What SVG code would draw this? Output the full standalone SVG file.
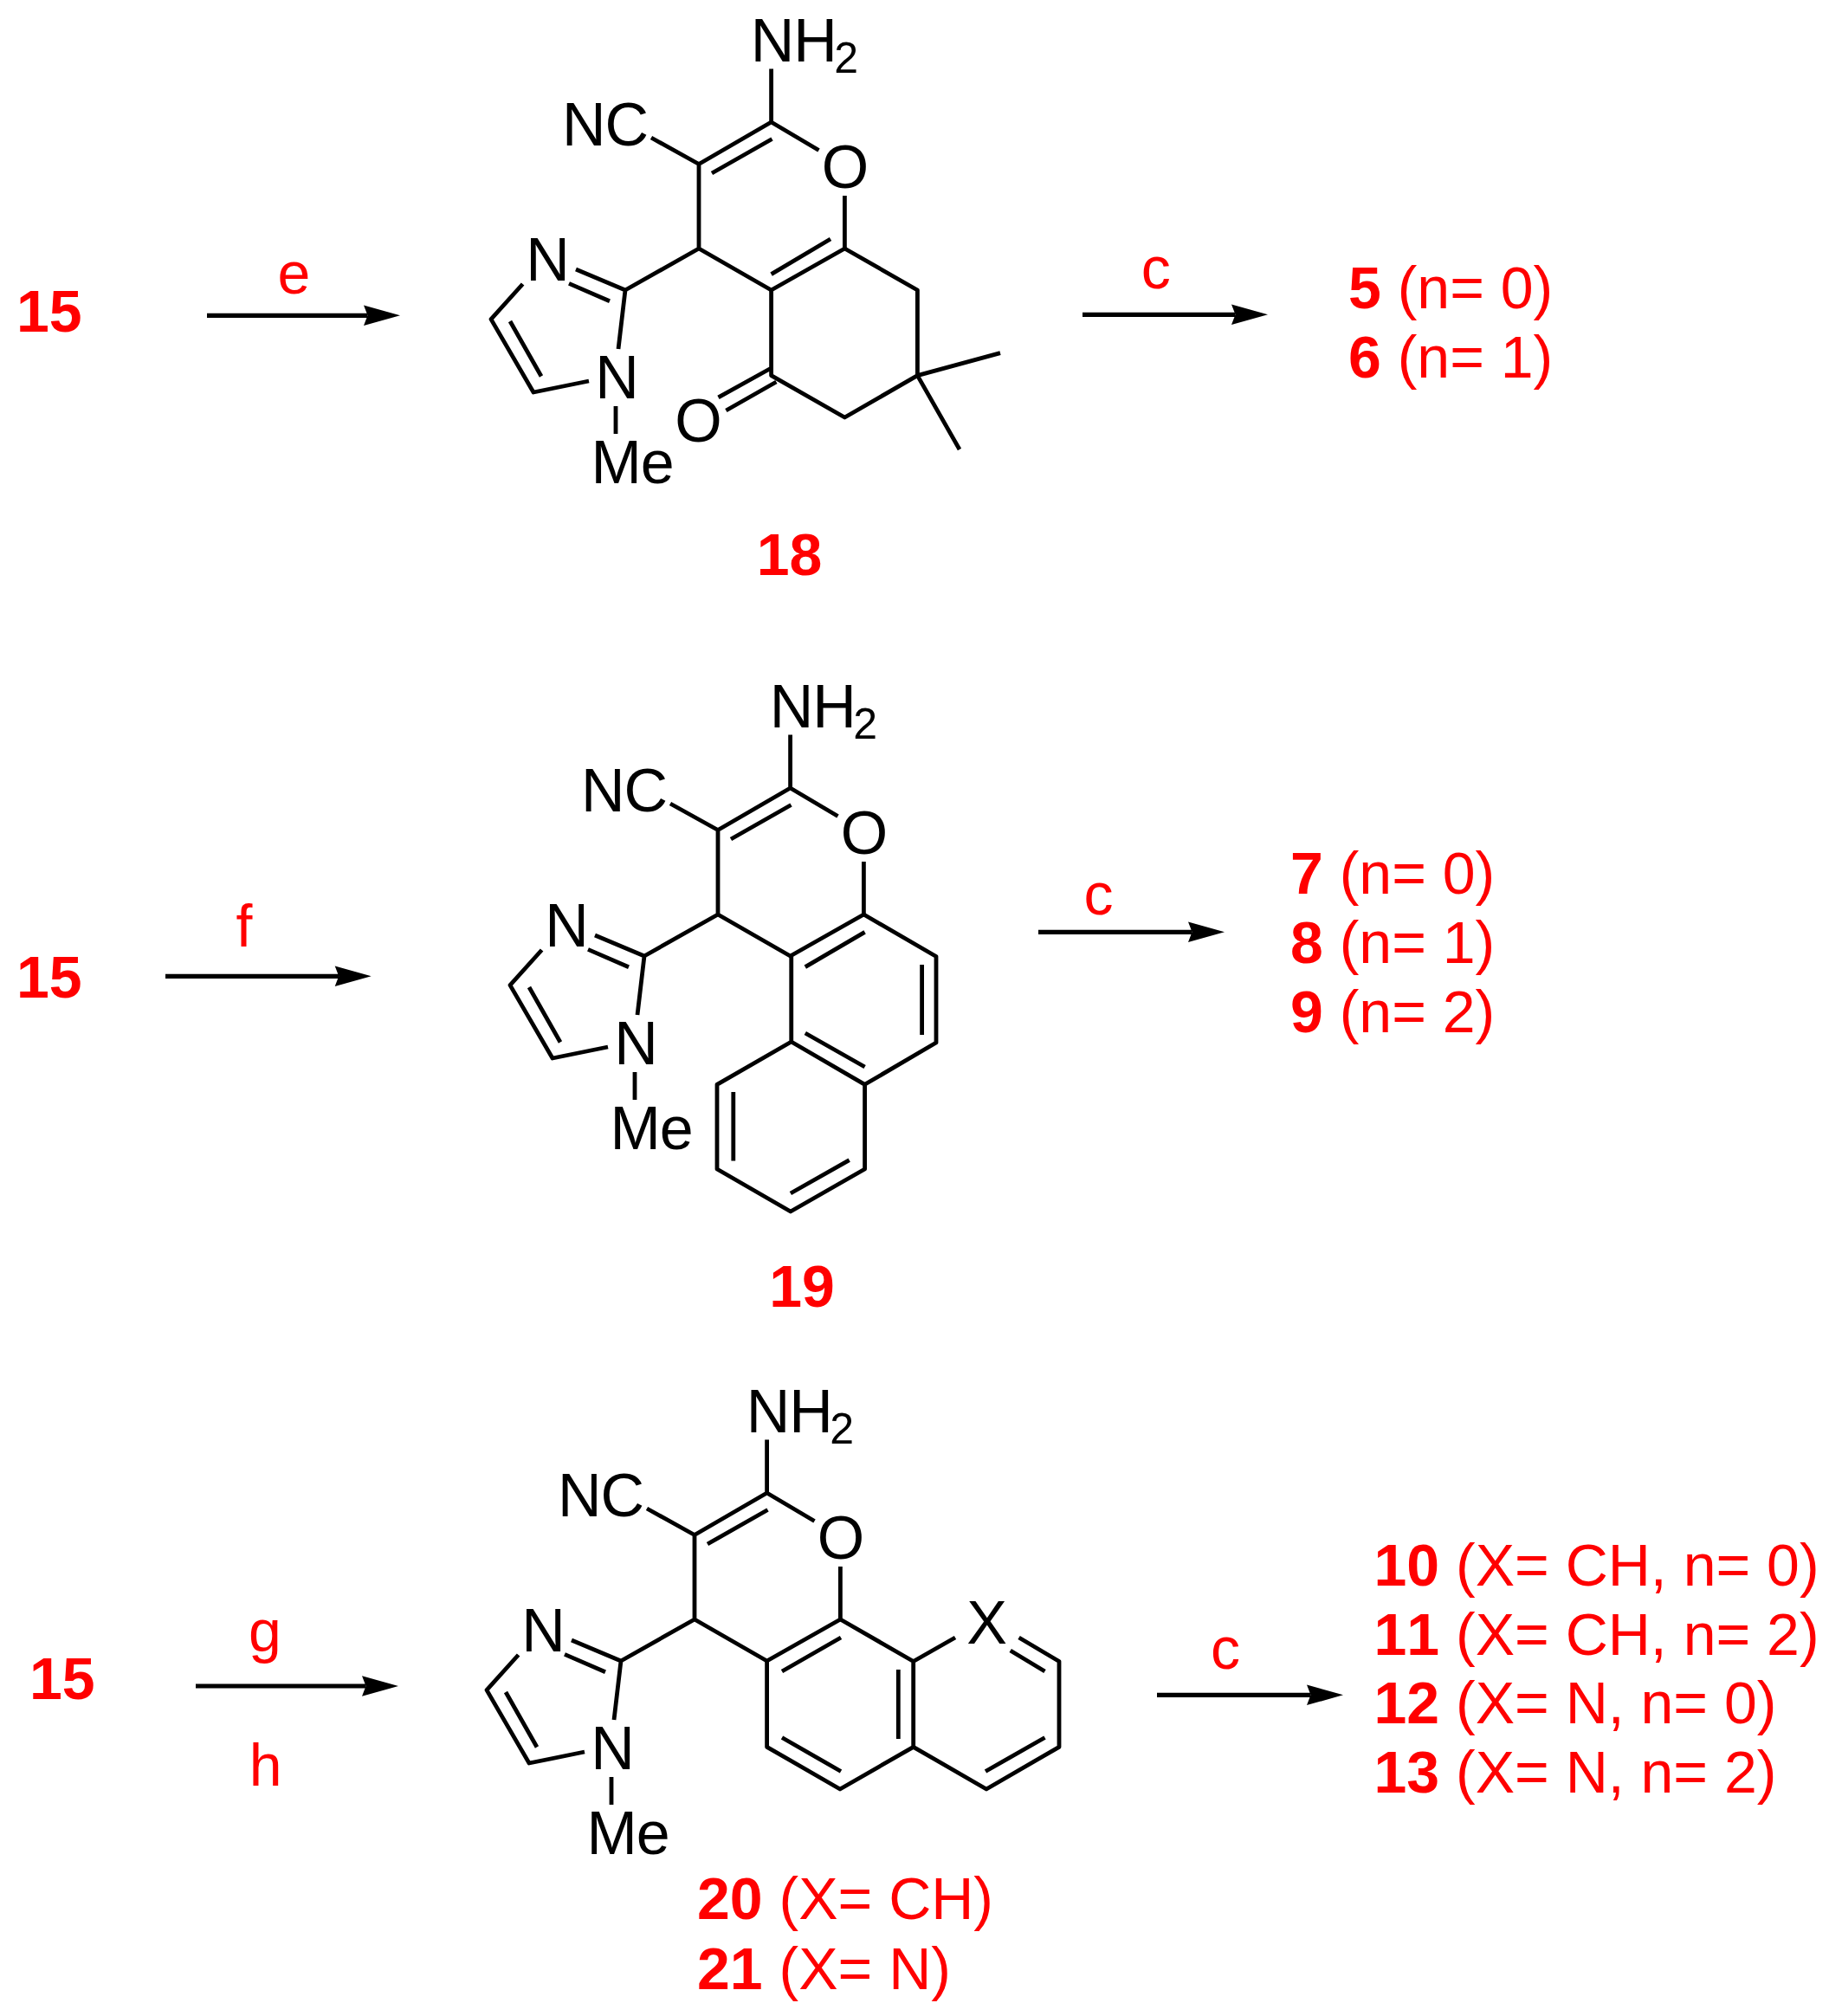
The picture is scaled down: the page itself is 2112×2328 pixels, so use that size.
<svg xmlns="http://www.w3.org/2000/svg" width="2112" height="2328" viewBox="0 0 2112 2328">
<style>
text{font-family:"Liberation Sans",Arial,sans-serif;font-size:68px;font-kerning:none}
.k{fill:#000;font-size:70px;letter-spacing:-1px}
.r{fill:#f00}
.b{font-weight:bold}
.m{text-anchor:middle}
.s{font-size:50px;letter-spacing:0}
.bond{fill:none;stroke:#000;stroke-width:4.8;stroke-linejoin:round}
.arrow{fill:none;stroke:#000;stroke-width:5.200}
</style>
<defs>
<marker id="head" markerUnits="userSpaceOnUse" markerWidth="50" markerHeight="30" refX="4.5" refY="12" orient="auto" overflow="visible"><path d="M0 .2L42 12L0 23.800L4.500 12Z" fill="#000"/></marker>
<path id="core" d="M890.600 79.400V141L807 189.500V287L890.600 335L975.400 287V226M822 200L891.500 160.500M752 159L807 189.500M890.600 141L945.500 173.500M807 287L722 335L714 403M722 335L665 311M704 347.800L657 327.400M603.600 328L567 368.600L616 453L680 440M589 371L625 434.500M711 469V501"/>
</defs>
<rect width="2112" height="2328" fill="#fff"/>
<g id="connectors">
<path class="arrow" d="M239 364.300H424.500" marker-end="url(#head)"/>
<path class="arrow" d="M1250 363.300H1426.500" marker-end="url(#head)"/>
<path class="arrow" d="M191 1127.300H391.200" marker-end="url(#head)"/>
<path class="arrow" d="M1199 1076.300H1376.500" marker-end="url(#head)"/>
<path class="arrow" d="M226 1947H422.500" marker-end="url(#head)"/>
<path class="arrow" d="M1336 1957.300H1513.500" marker-end="url(#head)"/>
</g>
<g id="mol18">
<use href="#core" class="bond"/>
<path class="bond" d="M890.600 316.600L959 276M975.400 287L1059.400 335V433.600L975.400 482L890.600 433.600V335M1155 407.600L1059.400 433.600L1108 519M890.600 425L829.500 458.800M896.400 441L838.400 474"/>
<text class="k" x="866.700" y="71">NH<tspan class="s" dy="13" dx="-2.500">2</tspan></text>
<text class="k" x="649" y="167.500">NC</text>
<text class="k m" x="975.400" y="216.500">O</text>
<text class="k m" x="806" y="509.500">O</text>
<text class="k m" x="632" y="323.500">N</text>
<text class="k m" x="712" y="460">N</text>
<text class="k" x="682.500" y="558">Me</text>
<text class="r b m" x="911.600" y="663.500">18</text>
</g>
<g id="mol19">
<use href="#core" class="bond" transform="translate(22 769)"/>
<path class="bond" d="M929.800 1116.600L998.600 1076.400M997.400 1056L1081 1104.500V1204L998.600 1252.300L913.750 1203V1104M1064.600 1114V1195M929.800 1193L998.600 1232M913.750 1203L828 1252.300V1350L912.900 1399L998.600 1350V1252.300M846.800 1261V1340.500M912.900 1378L980.700 1339.600"/>
<text class="k" x="888.700" y="840">NH<tspan class="s" dy="13" dx="-2.500">2</tspan></text>
<text class="k" x="671" y="936.500">NC</text>
<text class="k m" x="997.400" y="985.500">O</text>
<text class="k m" x="654" y="1092.500">N</text>
<text class="k m" x="734" y="1229">N</text>
<text class="k" x="704.500" y="1327">Me</text>
<text class="r b m" x="926" y="1509">19</text>
</g>
<g id="mol20">
<use href="#core" class="bond" transform="translate(-5 1583)"/>
<path class="bond" d="M903 1930L971 1891M970.400 1870L1054.700 1918.500V2017.300L970 2066L885.600 2017.300V1918M903 2006.500L971 2045.500M1037.300 1928V2008M1054.700 1918.500L1103 1891M1176.600 1891L1223 1918.500V2017.300L1139 2066L1054.700 2017.300M1166.700 1906L1206.500 1930M1206.500 2006.500L1138 2045.500"/>
<text class="k" x="861.700" y="1654">NH<tspan class="s" dy="13" dx="-2.500">2</tspan></text>
<text class="k" x="644" y="1750.500">NC</text>
<text class="k m" x="970.400" y="1799.500">O</text>
<text class="k m" x="627" y="1906.500">N</text>
<text class="k m" x="707" y="2043">N</text>
<text class="k" x="677.500" y="2141">Me</text>
<text class="k m" x="1139" y="1897.500">X</text>
<text class="r" x="805" y="2216"><tspan class="b">20</tspan> (X= CH)</text>
<text class="r" x="805" y="2297"><tspan class="b">21</tspan> (X= N)</text>
</g>
<g id="reactant-1"><text class="r b" x="19" y="382.500">15</text></g>
<g id="reactant-2"><text class="r b" x="19" y="1151.500">15</text></g>
<g id="reactant-3"><text class="r b" x="34" y="1962">15</text></g>
<g id="reagents">
<text class="r m" x="339.300" y="339">e</text>
<text class="r m" x="1334.800" y="333">c</text>
<text class="r m" x="282" y="1092.700">f</text>
<text class="r m" x="1268.400" y="1056">c</text>
<text class="r m" x="306" y="1906.700">g</text>
<text class="r m" x="306.700" y="2062.300">h</text>
<text class="r m" x="1415" y="1927">c</text>
</g>
<g id="products-1">
<text class="r" x="1557" y="356"><tspan class="b">5</tspan> (n= 0)</text>
<text class="r" x="1557" y="436"><tspan class="b">6</tspan> (n= 1)</text>
</g>
<g id="products-2">
<text class="r" x="1490" y="1031.500"><tspan class="b">7</tspan> (n= 0)</text>
<text class="r" x="1490" y="1111.500"><tspan class="b">8</tspan> (n= 1)</text>
<text class="r" x="1490" y="1191.500"><tspan class="b">9</tspan> (n= 2)</text>
</g>
<g id="products-3">
<text class="r" x="1586.500" y="1831"><tspan class="b">10</tspan> (X= CH, n= 0)</text>
<text class="r" x="1586.500" y="1910.500"><tspan class="b">11</tspan> (X= CH, n= 2)</text>
<text class="r" x="1586.500" y="1990"><tspan class="b">12</tspan> (X= N, n= 0)</text>
<text class="r" x="1586.500" y="2070"><tspan class="b">13</tspan> (X= N, n= 2)</text>
</g>
</svg>
